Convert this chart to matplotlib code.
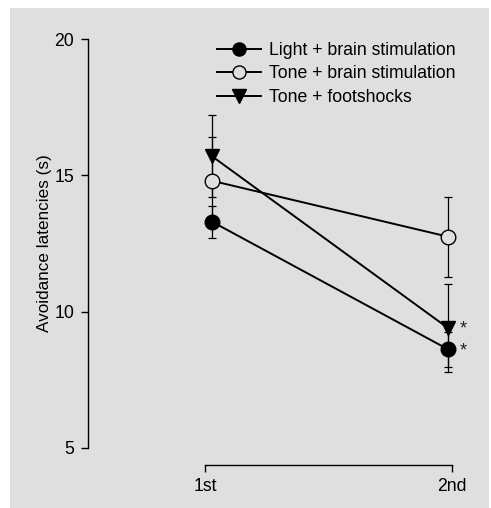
import matplotlib
matplotlib.use("Agg")
import matplotlib.pyplot as plt
from matplotlib.patches import Rectangle

plt.rcParams['font.family'] = ['Liberation Sans', 'DejaVu Sans']

# ---- data ----
sessions = ["1st", "2nd"]
series_names = ["Light + brain stimulation", "Tone + brain stimulation", "Tone + footshocks"]
light_brain = [13.3, 8.62]
light_brain_sem = [0.58, 0.64]
tone_brain = [14.8, 12.75]
tone_brain_sem = [1.6, 1.47]
tone_shock = [15.7, 9.4]
tone_shock_sem = [1.5, 1.6]
significant = {"Tone + footshocks": [False, True], "Light + brain stimulation": [False, True]}
yticks = [5, 10, 15, 20]

# ---- layout ----
W, H, DPI = 491, 508, 100
BG = "#dfdfdf"
fig = plt.figure(figsize=(W / DPI, H / DPI), dpi=DPI, facecolor="white")
fig.patches.append(Rectangle((10 / W, 0), 479 / W, (H - 8) / H, transform=fig.transFigure,
                             facecolor=BG, edgecolor="none", zorder=-10))

ax_left, ax_right = 88, 478
ax_top, ax_bot = 39, 448
ax = fig.add_axes([ax_left / W, (H - ax_bot) / H, (ax_right - ax_left) / W, (ax_bot - ax_top) / H])
ax.set_facecolor("none")

x = [1, 2]
# px positions: data x=1 at 212px, x=2 at 448px
ppu = 448 - 212
ax.set_xlim(1 - (212 - ax_left) / ppu, 2 + (ax_right - 448) / ppu)
ax.set_ylim(5, 20)

tick_pos = [1 - 7 / ppu, 2 + 4 / ppu]

styles = [
    dict(marker="o", mfc="black", mec="black", ms=10.5),
    dict(marker="o", mfc=BG, mec="black", ms=10.5, mew=1.0),
    dict(marker="v", mfc="black", mec="black", ms=10.5),
]
data = [(light_brain, light_brain_sem), (tone_brain, tone_brain_sem), (tone_shock, tone_shock_sem)]

# error bars first
for (vals, sem) in data:
    ax.errorbar(x, vals, yerr=sem, fmt="none", ecolor="black", elinewidth=0.9,
                capsize=2.6, capthick=0.9, zorder=2)

handles = []
for name, (vals, sem), st in zip(series_names, data, styles):
    h, = ax.plot(x, vals, color="black", lw=1.4, label=name, zorder=3, **st)
    handles.append(h)

for name, flags in significant.items():
    vals = data[series_names.index(name)][0]
    for xi, v, f in zip(x, vals, flags):
        if f:
            ax.annotate("*", (xi, v), xytext=(11, -1), textcoords="offset points",
                        fontsize=13, ha="center", va="center", color="#222222")

# spines & ticks
for s in ["top", "right"]:
    ax.spines[s].set_visible(False)
ax.spines["left"].set_bounds(5, 20)
ax.spines["bottom"].set_position(("outward", 12.5))
ax.spines["bottom"].set_bounds(tick_pos[0], tick_pos[1])
for s in ["left", "bottom"]:
    ax.spines[s].set_linewidth(1.0)
ax.set_yticks(yticks)
ax.set_yticklabels([str(t) for t in yticks])
ax.set_xticks(tick_pos)
ax.set_xticklabels(sessions)
ax.tick_params(axis="both", direction="out", length=5, width=1.0, labelsize=12.7, colors="black")
ax.tick_params(axis="y", pad=5)
ax.tick_params(axis="x", pad=4)

ax.set_ylabel("Avoidance latencies (s)", fontsize=12.3, labelpad=1.5)

leg = ax.legend(handles=handles, loc="upper left", bbox_to_anchor=(217 / W, 1 - 42 / H),
                bbox_transform=fig.transFigure, frameon=False, fontsize=12.7,
                handlelength=2.5, handletextpad=0.45, labelspacing=0.36,
                borderpad=0, borderaxespad=0, markerscale=0.9)

fig.savefig("out.png", dpi=DPI, facecolor="white")
